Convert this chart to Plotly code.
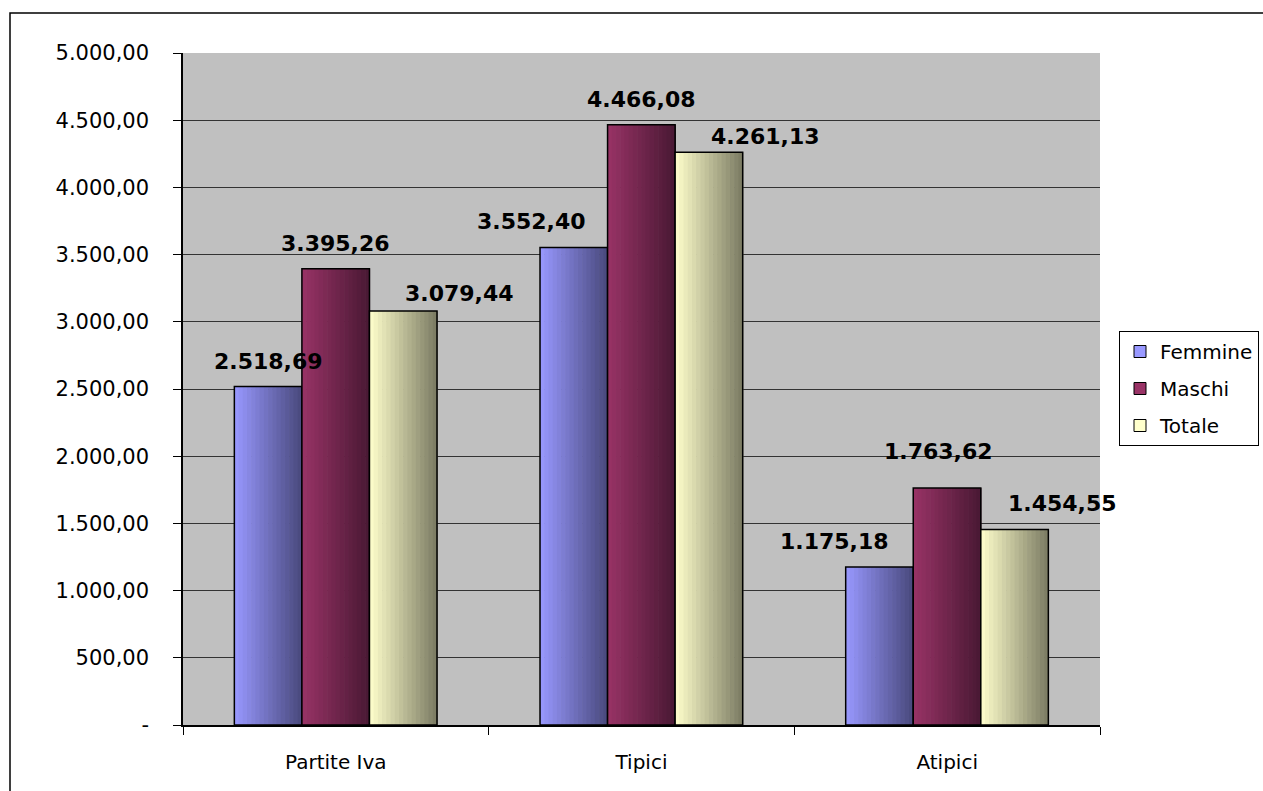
import plotly.graph_objects as go

# ---- data ----
categories = ["Partite Iva", "Tipici", "Atipici"]
series_names = ["Femmine", "Maschi", "Totale"]
femmine = [2518.69, 3552.40, 1175.18]
maschi = [3395.26, 4466.08, 1763.62]
totale = [3079.44, 4261.13, 1454.55]
femmine_labels = ["2.518,69", "3.552,40", "1.175,18"]
maschi_labels = ["3.395,26", "4.466,08", "1.763,62"]
totale_labels = ["3.079,44", "4.261,13", "1.454,55"]
y_tick_values = [0, 500, 1000, 1500, 2000, 2500, 3000, 3500, 4000, 4500, 5000]
y_tick_labels = ["-", "500,00", "1.000,00", "1.500,00", "2.000,00", "2.500,00",
                 "3.000,00", "3.500,00", "4.000,00", "4.500,00", "5.000,00"]

values = [femmine, maschi, totale]
labels = [femmine_labels, maschi_labels, totale_labels]

# ---- style ----
bar_w = 0.221
offsets = [-0.332, -0.111, 0.110]
grad = [((0x99, 0x99, 0xFF), (0x48, 0x48, 0x7C)),
        ((0x99, 0x33, 0x66), (0x48, 0x18, 0x33)),
        ((0xFF, 0xFF, 0xCC), (0x7A, 0x7A, 0x62))]
legend_colors = ["#9999FF", "#993366", "#FFFFCC"]
# label placement (px shift from bar centre, px above bar top) per series/category
label_dx = [[0, -42, -45], [0, 0, -9], [56, 57, 48]]
label_dy = [[25, 26, 26], [25, 25, 36], [18, 16, 26]]
N = 16

fig = go.Figure()
for s in range(3):
    c0, c1 = grad[s]
    for k in range(N):
        t = (k + 0.5) / N
        col = "rgb(%d,%d,%d)" % tuple(round(c0[i] + (c1[i] - c0[i]) * t) for i in range(3))
        fig.add_trace(go.Bar(
            x=categories, y=values[s], width=bar_w / N + 0.002,
            offset=offsets[s] + k * bar_w / N,
            marker=dict(color=col, line=dict(width=0)),
            showlegend=False, hoverinfo="skip"))
    fig.add_trace(go.Bar(
        x=categories, y=values[s], width=bar_w, offset=offsets[s],
        marker=dict(color="rgba(0,0,0,0)", line=dict(color="black", width=1.5)),
        showlegend=False, name=series_names[s]))
    fig.add_trace(go.Bar(
        x=categories, y=[None] * 3, name=series_names[s],
        marker=dict(color=legend_colors[s], line=dict(color="black", width=1)),
        legendgroup=series_names[s], showlegend=True))

annotations = []
for s in range(3):
    for c in range(3):
        annotations.append(dict(
            x=c + offsets[s] + bar_w / 2, y=values[s][c], xref="x", yref="y",
            text=labels[s][c], showarrow=False, yanchor="middle", xanchor="center",
            xshift=label_dx[s][c], yshift=label_dy[s][c],
            font=dict(family="DejaVu Sans", size=22, color="black", weight="bold")))

W, H = 1263, 791
ml, mr, mt, mb = 183, 163, 53, 66
pw, ph = W - ml - mr, H - mt - mb
fig.update_layout(
    width=W, height=H,
    margin=dict(l=ml, r=mr, t=mt, b=mb, autoexpand=False),
    barmode="overlay",
    paper_bgcolor="white",
    plot_bgcolor="#C0C0C0",
    font=dict(family="DejaVu Sans", color="black"),
    annotations=annotations,
    legend=dict(x=(1119 - ml) / pw, y=(725 - 331) / ph, xanchor="left", yanchor="top",
                bgcolor="white", bordercolor="black", borderwidth=1,
                font=dict(family="DejaVu Sans", size=20, color="black"),
                traceorder="grouped", tracegroupgap=8),
    shapes=[dict(type="rect", xref="paper", yref="paper",
                 x0=(10 - ml) / pw, x1=(W + 20 - ml) / pw,
                 y0=(725 - (H + 20)) / ph, y1=(725 - 13) / ph,
                 line=dict(color="black", width=1.5), fillcolor="rgba(0,0,0,0)", layer="below")],
    xaxis=dict(type="category", range=[-0.5, 2.5], showgrid=False,
               ticks="outside", tickson="boundaries", ticklen=8, tickcolor="black",
               showline=True, linecolor="black", linewidth=1.5,
               ticklabelstandoff=18,
               tickfont=dict(family="DejaVu Sans", size=20, color="black")),
    yaxis=dict(range=[0, 5000], tickvals=y_tick_values, ticktext=y_tick_labels,
               showgrid=True, gridcolor="#333333", gridwidth=1,
               ticks="outside", ticklen=8, tickcolor="black",
               showline=True, linecolor="black", linewidth=1.5,
               ticklabelstandoff=20, zeroline=False,
               tickfont=dict(family="DejaVu Sans", size=21, color="black")),
)
fig.write_html("out.html")
